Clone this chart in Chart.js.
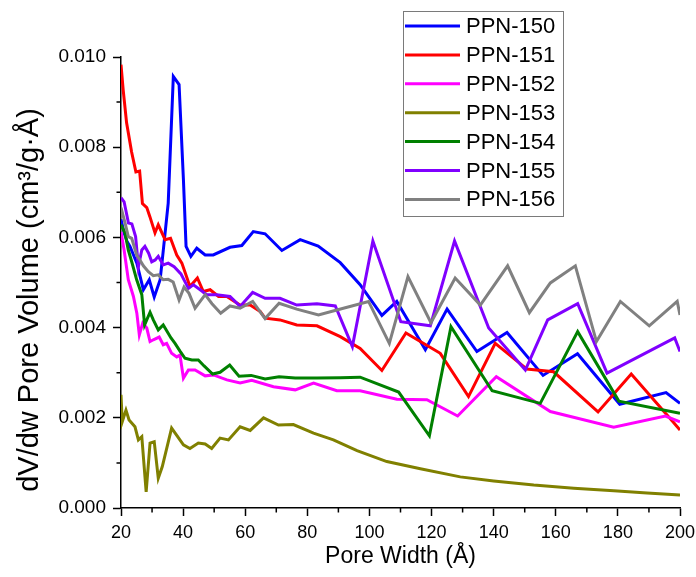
<!DOCTYPE html>
<html>
<head>
<meta charset="utf-8">
<script src="https://cdn.jsdelivr.net/npm/chart.js@4.4.1/dist/chart.umd.min.js"></script>
<style>
  html, body { margin: 0; padding: 0; background: #fff; }
  canvas { display: block; }
</style>
</head>
<body>
<canvas id="poreChart" width="696" height="577"></canvas>
<script>
const seriesNames = ['PPN-150', 'PPN-151', 'PPN-152', 'PPN-153', 'PPN-154', 'PPN-155', 'PPN-156'];
const seriesColors = ['#0000ff', '#ff0000', '#ff00ff', '#808000', '#008000', '#8000ff', '#808080'];

const xTicks = [20, 40, 60, 80, 100, 120, 140, 160, 180, 200];
const yTicks = ['0.000', '0.002', '0.004', '0.006', '0.008', '0.010'];
const yTitle = 'dV/dw Pore Volume (cm³/g·Å)';

// PPN-150
const width150 = [20, 21, 22, 22.9, 25.1, 27.2, 29.1, 30.7, 32.6, 33.6, 35.2, 36.85, 38.7, 40.1, 40.95, 42.5, 44.4, 47.1, 49.7, 55.1, 58.9, 62.6, 66.4, 71.8, 77.7, 83.5, 90.6, 97.0, 104.0, 108.8, 118.0, 125.0, 134.6, 144.3, 155.9, 167.0, 180.6, 195.5, 200];
const pv150 = [0.0064, 0.0061, 0.0059, 0.0058, 0.00543, 0.00484, 0.00506, 0.00468, 0.00506, 0.0057, 0.00676, 0.00957, 0.00939, 0.00728, 0.0058, 0.00558, 0.00576, 0.00561, 0.00561, 0.00578, 0.00582, 0.00613, 0.00608, 0.00571, 0.00595, 0.00581, 0.00544, 0.00495, 0.00427, 0.00458, 0.00351, 0.00441, 0.00347, 0.00389, 0.00294, 0.00342, 0.0023, 0.00256, 0.00232];

// PPN-151
const width151 = [20, 20.7, 21.8, 23.4, 24.8, 26.0, 26.9, 28.3, 29.3, 30.95, 32.0, 34.2, 35.95, 37.95, 39.6, 42.2, 44.6, 46.5, 48.7, 51.4, 54.1, 58.3, 61.6, 64.8, 66.4, 71.2, 76.6, 83.1, 90.6, 97.0, 104.0, 111.75, 122.8, 131.9, 140.5, 150.7, 159.3, 173.6, 184.3, 198.0, 200];
const pv151 = [0.00983, 0.00927, 0.00854, 0.0079, 0.00745, 0.00747, 0.00675, 0.00666, 0.00646, 0.0061, 0.00628, 0.00595, 0.00598, 0.00561, 0.00543, 0.00491, 0.0051, 0.0048, 0.00484, 0.00469, 0.00469, 0.0045, 0.0045, 0.00436, 0.00421, 0.00417, 0.00406, 0.00404, 0.0038, 0.00354, 0.00305, 0.00388, 0.00343, 0.00247, 0.00365, 0.00308, 0.00302, 0.00213, 0.00297, 0.00189, 0.00173];

// PPN-152
const width152 = [20, 21, 22.35, 24.0, 25.1, 25.9, 27.0, 28.3, 29.35, 30.4, 32.3, 33.6, 34.7, 36.3, 37.95, 39.0, 40.1, 41.7, 43.85, 47.1, 49.75, 54.1, 58.35, 62.1, 69.1, 76.1, 82.0, 89.5, 97.0, 108.85, 118.5, 128.4, 140.85, 158.25, 178.65, 195.3, 200];
const pv152 = [0.00612, 0.00572, 0.00506, 0.00469, 0.00432, 0.00384, 0.0041, 0.00399, 0.00369, 0.00373, 0.00379, 0.00362, 0.00365, 0.00343, 0.00335, 0.00339, 0.00288, 0.00306, 0.00306, 0.00293, 0.00295, 0.00284, 0.00277, 0.00283, 0.00269, 0.00262, 0.00277, 0.0026, 0.0026, 0.00241, 0.0024, 0.00204, 0.00291, 0.00214, 0.00179, 0.00204, 0.00191];

// PPN-153
const width153 = [20, 20.4, 21.6, 22.6, 24.5, 25.6, 26.7, 28.1, 29.35, 30.7, 32.0, 33.3, 36.3, 40.1, 42.2, 44.9, 47.1, 49.2, 51.9, 54.6, 58.35, 61.6, 65.9, 70.7, 75.5, 82.0, 88.4, 96.0, 105.6, 116.4, 129.25, 140.0, 152.9, 165.8, 178.7, 189.4, 200];
const pv153 = [0.00251, 0.00191, 0.00217, 0.00195, 0.0018, 0.00151, 0.00158, 0.00036, 0.00144, 0.00147, 0.00066, 0.00092, 0.00177, 0.0014, 0.00132, 0.00144, 0.00142, 0.00132, 0.00155, 0.00151, 0.0018, 0.00172, 0.002, 0.00184, 0.00185, 0.00166, 0.00151, 0.00127, 0.00103, 0.00087, 0.00069, 0.0006, 0.00051, 0.00044, 0.00038, 0.00033, 0.00029];

// PPN-154
const width154 = [20, 21.3, 22.35, 23.45, 25.05, 26.7, 27.6, 29.35, 30.4, 32.0, 33.6, 36.1, 37.4, 39.0, 40.6, 42.8, 44.9, 46.75, 49.5, 51.9, 55.0, 58.0, 61.9, 66.4, 70.9, 76.1, 83.1, 90.6, 97.0, 109.4, 119.3, 126.25, 139.5, 155.0, 167.05, 180.3, 200];
const pv154 = [0.00628, 0.0061, 0.00572, 0.00546, 0.00506, 0.00473, 0.00406, 0.00434, 0.00417, 0.00395, 0.00406, 0.00377, 0.00365, 0.00348, 0.00332, 0.00328, 0.00328, 0.00315, 0.00297, 0.00301, 0.00317, 0.00292, 0.00294, 0.00286, 0.00291, 0.00288, 0.00288, 0.00289, 0.0029, 0.00257, 0.0016, 0.00402, 0.0026, 0.00232, 0.00391, 0.00237, 0.0021];

// PPN-155
const width155 = [20, 21.0, 22.4, 23.5, 24.7, 25.6, 26.7, 27.7, 28.9, 29.9, 31.0, 32.0, 33.6, 35.2, 37.1, 39.3, 41.7, 43.3, 45.5, 47.6, 50.8, 55.1, 58.35, 62.4, 66.4, 71.2, 76.6, 83.1, 89.0, 94.5, 101.1, 110.1, 119.6, 127.4, 138.4, 150.2, 157.4, 167.05, 176.5, 198.3, 200];
const pv155 = [0.00688, 0.00679, 0.00632, 0.0063, 0.00602, 0.00535, 0.00572, 0.0058, 0.00565, 0.00546, 0.0055, 0.00558, 0.00539, 0.00543, 0.00535, 0.00519, 0.00487, 0.00495, 0.00484, 0.00473, 0.00473, 0.00469, 0.00447, 0.00478, 0.00465, 0.00465, 0.0045, 0.00453, 0.00448, 0.00358, 0.00592, 0.00413, 0.00404, 0.00592, 0.00399, 0.00306, 0.00417, 0.00453, 0.00299, 0.00377, 0.00347];

// PPN-156
const width156 = [20, 21.3, 22.35, 23.45, 25.05, 26.1, 27.2, 28.8, 30.4, 32.0, 33.6, 35.2, 36.8, 38.7, 40.3, 41.9, 43.85, 47.1, 49.3, 52.1, 55.1, 58.35, 62.4, 66.4, 70.9, 76.6, 83.6, 89.5, 99.7, 106.4, 112.4, 119.8, 127.6, 135.7, 144.5, 151.5, 158.25, 166.3, 173.1, 180.8, 190.1, 199.1, 200];
const pv156 = [0.00666, 0.00632, 0.00602, 0.00598, 0.00561, 0.0055, 0.00537, 0.00524, 0.00515, 0.00517, 0.00506, 0.00507, 0.00501, 0.00461, 0.0049, 0.00476, 0.00443, 0.00473, 0.00453, 0.00432, 0.00448, 0.00443, 0.00458, 0.0042, 0.00454, 0.00441, 0.00428, 0.00439, 0.00458, 0.00365, 0.00513, 0.00411, 0.0051, 0.0045, 0.00537, 0.00433, 0.00499, 0.00537, 0.00369, 0.00458, 0.00404, 0.00458, 0.00428];

const widths = [width150, width151, width152, width153, width154, width155, width156];
const volumes = [pv150, pv151, pv152, pv153, pv154, pv155, pv156];

const FONT = "'Liberation Sans', Arial, sans-serif";

// minor tick marks, Origin style
const minorTicks = {
  id: 'minorTicks',
  afterDraw(chart) {
    const { ctx, chartArea, scales } = chart;
    ctx.save();
    ctx.strokeStyle = '#000';
    ctx.lineWidth = 1.5;
    ctx.beginPath();
    for (let i = 0; i < xTicks.length - 1; i++) {
      const px = scales.x.getPixelForValue((xTicks[i] + xTicks[i + 1]) / 2);
      ctx.moveTo(px, chartArea.bottom);
      ctx.lineTo(px, chartArea.bottom + 4.5);
    }
    for (let i = 0; i < yTicks.length - 1; i++) {
      const py = scales.y.getPixelForValue((parseFloat(yTicks[i]) + parseFloat(yTicks[i + 1])) / 2);
      ctx.moveTo(chartArea.left, py);
      ctx.lineTo(chartArea.left - 4.5, py);
    }
    ctx.stroke();
    ctx.restore();
  }
};

// y title drawn by hand so it can sit a bit below the plot centre
const sideTitle = {
  id: 'sideTitle',
  afterDraw(chart) {
    const ctx = chart.ctx;
    ctx.save();
    ctx.translate(30, 300);
    ctx.rotate(-Math.PI / 2);
    ctx.font = '29px ' + FONT;
    ctx.fillStyle = '#000';
    ctx.textAlign = 'center';
    ctx.textBaseline = 'middle';
    ctx.fillText(yTitle, 0, 0);
    ctx.restore();
  }
};

// boxed legend inside the plot, top right
const boxLegend = {
  id: 'boxLegend',
  afterDraw(chart) {
    const ctx = chart.ctx;
    const left = 403, top = 11, w = 160, h = 205;
    ctx.save();
    ctx.strokeStyle = '#7a7a7a';
    ctx.lineWidth = 1;
    ctx.strokeRect(left + 0.5, top + 0.5, w, h);
    ctx.font = '22px ' + FONT;
    ctx.textBaseline = 'middle';
    ctx.fillStyle = '#000';
    chart.data.datasets.forEach((ds, i) => {
      const y = 26 + i * 28.9;
      ctx.strokeStyle = ds.borderColor;
      ctx.lineWidth = 3;
      ctx.beginPath();
      ctx.moveTo(405, y);
      ctx.lineTo(460, y);
      ctx.stroke();
      ctx.fillText(ds.label, 466, y + 1);
    });
    ctx.restore();
  }
};

new Chart(document.getElementById('poreChart'), {
  type: 'line',
  data: {
    datasets: seriesNames.map((name, i) => ({
      label: name,
      data: widths[i].map((w, j) => ({ x: w, y: volumes[i][j] })),
      borderColor: seriesColors[i],
      backgroundColor: seriesColors[i],
      borderWidth: 3,
      pointRadius: 0,
      tension: 0,
      fill: false,
      order: seriesNames.length - i
    }))
  },
  options: {
    responsive: false,
    animation: false,
    layout: { padding: { left: 0, top: 57, right: 16, bottom: 4 } },
    plugins: {
      legend: { display: false },
      tooltip: { enabled: false }
    },
    scales: {
      x: {
        type: 'linear',
        min: 20,
        max: 200,
        afterBuildTicks: (scale) => { scale.ticks = xTicks.map(v => ({ value: v })); },
        afterFit: (scale) => { scale.height = 65; scale.paddingLeft = 0; scale.paddingRight = 0; },
        grid: { drawOnChartArea: false, drawTicks: true, tickLength: 8, tickWidth: 1.5, tickColor: '#000' },
        border: { color: '#000', width: 1.5 },
        ticks: { color: '#000', font: { family: FONT, size: 18 }, padding: 6, maxRotation: 0 },
        title: { display: true, text: 'Pore Width (Å)', color: '#000', font: { family: FONT, size: 23 }, padding: { top: 0, bottom: 3 } }
      },
      y: {
        min: 0,
        max: 0.010,
        afterBuildTicks: (scale) => { scale.ticks = yTicks.map(v => ({ value: parseFloat(v) })); },
        afterFit: (scale) => { scale.width = 121; },
        grid: { drawOnChartArea: false, drawTicks: true, tickLength: 8, tickWidth: 1.5, tickColor: '#000' },
        border: { color: '#000', width: 1.5 },
        ticks: { color: '#000', font: { family: FONT, size: 19 }, padding: 7, callback: (v) => v.toFixed(3) },
        title: { display: false }
      }
    }
  },
  plugins: [minorTicks, sideTitle, boxLegend]
});
</script>
</body>
</html>
